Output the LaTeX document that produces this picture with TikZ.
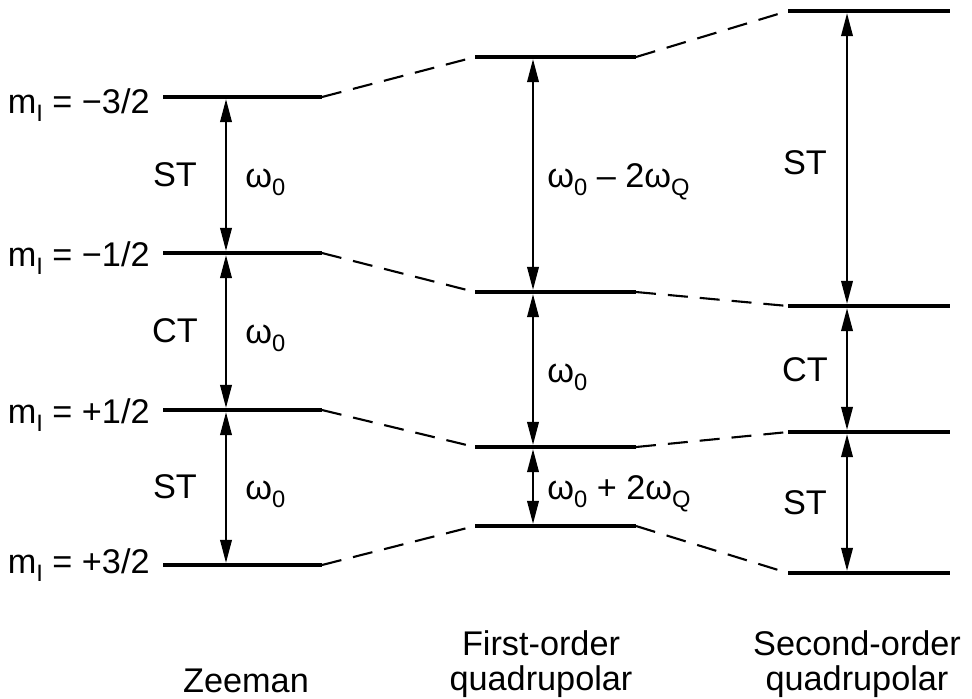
\documentclass[tikz,border=0pt]{standalone}
\usepackage{fontspec}
\setmainfont{Liberation Sans}
\usetikzlibrary{arrows.meta,positioning}

% lowered subscripts in text font
\newcommand{\lsub}[1]{\raisebox{-0.45ex}{\fontsize{13.5}{14}\selectfont #1}}
\newcommand{\wzero}{ω\lsub{0}}
\newcommand{\wquad}{ω\lsub{Q}}
\newcommand{\mI}{m\lsub{I}}

\begin{document}
\begin{tikzpicture}[x=0.02cm, y=-0.02cm,
  level/.style={line width=2.4pt},
  link/.style={line width=1.2pt, dash pattern=on 4mm off 2.4mm},
  trans/.style={{Triangle[length=4.6mm,width=2.3mm]}-{Triangle[length=4.6mm,width=2.3mm]}, line width=1.2pt, shorten <=1.2pt, shorten >=1.2pt},
  lbl/.style={inner sep=0pt, font=\fontsize{19.5}{23}\selectfont},
  caption/.style={inner sep=0pt, align=center, font=\fontsize{19.5}{17}\selectfont}
]
  \useasboundingbox (0,0) rectangle (972,698);

  % Zeeman levels
  \coordinate (z1w) at (163,97);  \coordinate (z1e) at (322,97);
  \coordinate (z2w) at (163,253); \coordinate (z2e) at (322,253);
  \coordinate (z3w) at (163,410); \coordinate (z3e) at (322,410);
  \coordinate (z4w) at (163,565); \coordinate (z4e) at (322,565);
  % first-order quadrupolar levels
  \coordinate (f1w) at (475,57);  \coordinate (f1e) at (636,57);
  \coordinate (f2w) at (475,292); \coordinate (f2e) at (636,292);
  \coordinate (f3w) at (475,447); \coordinate (f3e) at (636,447);
  \coordinate (f4w) at (475,526); \coordinate (f4e) at (636,526);
  % second-order quadrupolar levels
  \coordinate (s1w) at (788,11);  \coordinate (s1e) at (950,11);
  \coordinate (s2w) at (788,306); \coordinate (s2e) at (950,306);
  \coordinate (s3w) at (788,432); \coordinate (s3e) at (950,432);
  \coordinate (s4w) at (788,573); \coordinate (s4e) at (950,573);

  % x positions of the transition arrows
  \coordinate (zx) at (226,0);
  \coordinate (fx) at (533,0);
  \coordinate (sx) at (847,0);

  \draw[level] (z1w) -- (z1e);
  \draw[level] (z2w) -- (z2e);
  \draw[level] (z3w) -- (z3e);
  \draw[level] (z4w) -- (z4e);
  \draw[level] (f1w) -- (f1e);
  \draw[level] (f2w) -- (f2e);
  \draw[level] (f3w) -- (f3e);
  \draw[level] (f4w) -- (f4e);
  \draw[level] (s1w) -- (s1e);
  \draw[level] (s2w) -- (s2e);
  \draw[level] (s3w) -- (s3e);
  \draw[level] (s4w) -- (s4e);

  % correlation lines
  \draw[link] (z1e) -- (f1w);
  \draw[link] (z2e) -- (f2w);
  \draw[link] (z3e) -- (f3w);
  \draw[link] (z4e) -- (f4w);
  \draw[link] (f1e) -- (s1w);
  \draw[link] (f2e) -- (s2w);
  \draw[link] (f3e) -- (s3w);
  \draw[link] (f4e) -- (s4w);

  % transitions
  \draw[trans] (z1w -| zx) -- (z2w -| zx);
  \draw[trans] (z2w -| zx) -- (z3w -| zx);
  \draw[trans] (z3w -| zx) -- (z4w -| zx);
  \draw[trans] (f1w -| fx) -- (f2w -| fx);
  \draw[trans] (f2w -| fx) -- (f3w -| fx);
  \draw[trans] (f3w -| fx) -- (f4w -| fx);
  \draw[trans] (s1w -| sx) -- (s2w -| sx);
  \draw[trans] (s2w -| sx) -- (s3w -| sx);
  \draw[trans] (s3w -| sx) -- (s4w -| sx);

  % spin quantum numbers
  \node[lbl, anchor=base east] (m1) at (150,113) {\mI\ = −3/2};
  \node[lbl, anchor=base east] (m2) at (150,266) {\mI\ = −1/2};
  \node[lbl, anchor=base east] (m3) at (150,423) {\mI\ = +1/2};
  \node[lbl, anchor=base east] (m4) at (150,573) {\mI\ = +3/2};

  % Zeeman transition labels
  \node[lbl] (zst1) at (175,175) {ST};
  \node[lbl] (zct) at (175,331) {CT};
  \node[lbl] (zst2) at (175,487) {ST};
  \node[lbl, anchor=base west] (zw1) at (245,187) {\wzero};
  \node[lbl, anchor=base west] (zw2) at (245,343) {\wzero};
  \node[lbl, anchor=base west] (zw3) at (245,499) {\wzero};

  % first-order labels
  \node[lbl, anchor=base west] (fw1) at (547,187) {\wzero\ – 2\wquad};
  \node[lbl, anchor=base west] (fw2) at (547,382) {\wzero};
  \node[lbl, anchor=base west] (fw3) at (547,499) {\wzero\ + 2\wquad};

  % second-order labels
  \node[lbl] (sst1) at (805,163) {ST};
  \node[lbl] (sct) at (805,370) {CT};
  \node[lbl] (sst2) at (805,503) {ST};

  % column captions
  \node[lbl, anchor=base] (zeeman) at (246,692) {Zeeman};
  \node[caption, anchor=north] (first) at (541,630) {First-order\\[3pt]quadrupolar};
  \node[caption, anchor=north] (second) at (857,630) {Second-order\\[3pt]quadrupolar};
\end{tikzpicture}
\end{document}
